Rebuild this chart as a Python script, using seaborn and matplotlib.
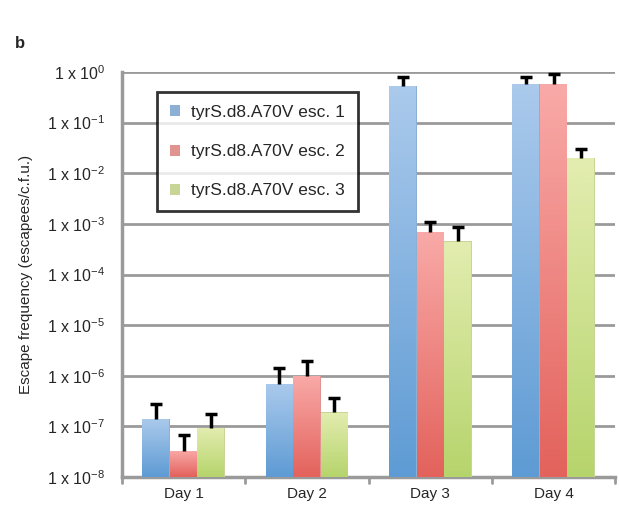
import numpy as np
import pandas as pd
import seaborn as sns
import matplotlib.pyplot as plt
from matplotlib.colors import LinearSegmentedColormap
from matplotlib.transforms import blended_transform_factory

# Data
days = ["Day 1", "Day 2", "Day 3", "Day 4"]
strains = ["tyrS.d8.A70V esc. 1", "tyrS.d8.A70V esc. 2", "tyrS.d8.A70V esc. 3"]
esc1 = [1.4e-7, 7.0e-7, 0.53, 0.58]
esc2 = [3.3e-8, 1.0e-6, 7.0e-4, 0.58]
esc3 = [9.3e-8, 1.9e-7, 4.5e-4, 0.020]
err1 = [1.4e-7, 7.0e-7, 0.27, 0.22]
err2 = [3.5e-8, 1.0e-6, 4.0e-4, 0.32]
err3 = [8.7e-8, 1.8e-7, 4.0e-4, 0.010]

ytick_vals = [10.0 ** k for k in range(0, -9, -1)]
ytick_labels = [r"1 x 10$^{%d}$" % k for k in range(0, -9, -1)]

df = pd.DataFrame({
    "day": days * 3,
    "strain": [s for s in strains for _ in days],
    "value": esc1 + esc2 + esc3,
})
errs = [err1, err2, err3]

# light top / dark bottom colours for each series
tops = ["#abcaec", "#f9aaa8", "#e3edb0"]
bottoms = ["#5e9bd4", "#e3625c", "#b6d46c"]
mids = ["#80b0e0", "#ee8682", "#cde08c"]

sns.set_style("white")
plt.rcParams["font.family"] = ["Liberation Sans", "DejaVu Sans"]
plt.rcParams["mathtext.fontset"] = "custom"
plt.rcParams["mathtext.rm"] = "Liberation Sans"
plt.rcParams["mathtext.it"] = "Liberation Sans"

fig = plt.figure(figsize=(6.19, 5.07), dpi=100)
ax = fig.add_axes([0.197, 0.059, 0.797, 0.799])

sns.barplot(data=df, x="day", y="value", hue="strain", palette=mids,
            width=0.67, ax=ax, zorder=3, linewidth=0)
ax.set_yscale("log")
ax.set_ylim(1e-8, 1)
ax.set_xlim(-0.5, 3.5)

tr = blended_transform_factory(ax.transData, ax.transAxes)
grad = np.linspace(1, 0, 256).reshape(-1, 1)

# gradient fill and upward error bars
for cont, err, c_top, c_bot in zip(ax.containers, errs, tops, bottoms):
    cmap = LinearSegmentedColormap.from_list("g", [c_bot, c_top])
    for bar, e in zip(cont, err):
        x0 = bar.get_x()
        w = bar.get_width()
        h = bar.get_height()
        frac = (np.log10(h) + 8) / 8
        im = ax.imshow(grad, cmap=cmap, aspect="auto", zorder=3.5,
                       extent=(x0, x0 + w, 0, frac), transform=tr,
                       interpolation="bilinear")
        im.set_clip_path(bar)
        xc = x0 + w / 2
        ax.plot([xc, xc], [h, h + e], color="black", linewidth=2.5,
                zorder=4, solid_capstyle="butt")
        ax.plot([xc], [h + e], marker="_", markersize=9, mew=2.5,
                color="black", zorder=4)

ax.set_xlim(-0.5, 3.5)
ax.set_ylim(1e-8, 1)

ax.set_yticks(ytick_vals)
ax.set_yticklabels(ytick_labels, fontsize=11.5)
ax.yaxis.set_minor_locator(plt.NullLocator())
ax.grid(axis="y", color="#9a9a9a", linewidth=2, zorder=0)
ax.set_axisbelow(True)

ax.set_xticks([0, 1, 2, 3])
ax.set_xticklabels(days, fontsize=11)
ax.tick_params(axis="x", length=0, pad=7)
ax.tick_params(axis="y", length=5, width=2, color="#9a9a9a", pad=7)
for b in [-0.5, 0.5, 1.5, 2.5, 3.5]:
    ax.plot([b, b], [0, -0.015], transform=ax.get_xaxis_transform(),
            color="#9a9a9a", linewidth=2, clip_on=False)

for side in ["top", "right"]:
    ax.spines[side].set_visible(False)
for side in ["left", "bottom"]:
    ax.spines[side].set_color("#9a9a9a")
    ax.spines[side].set_linewidth(2.5)

ax.set_xlabel("")
ax.set_ylabel("Escape frequency (escapees/c.f.u.)", fontsize=11, labelpad=10)

handles, labels = ax.get_legend_handles_labels()
leg = ax.legend(handles, labels, loc="upper left", bbox_to_anchor=(0.071, 0.951),
                fontsize=12.5, frameon=True, fancybox=False, edgecolor="black",
                handlelength=0.6, handleheight=0.6, handletextpad=0.6,
                labelspacing=1.4, borderpad=0.75, borderaxespad=0)
leg.get_frame().set_linewidth(2)
leg.set_zorder(10)

fig.text(0.024, 0.905, "b", fontsize=12, fontweight="bold")

fig.savefig("out.png", dpi=100)
